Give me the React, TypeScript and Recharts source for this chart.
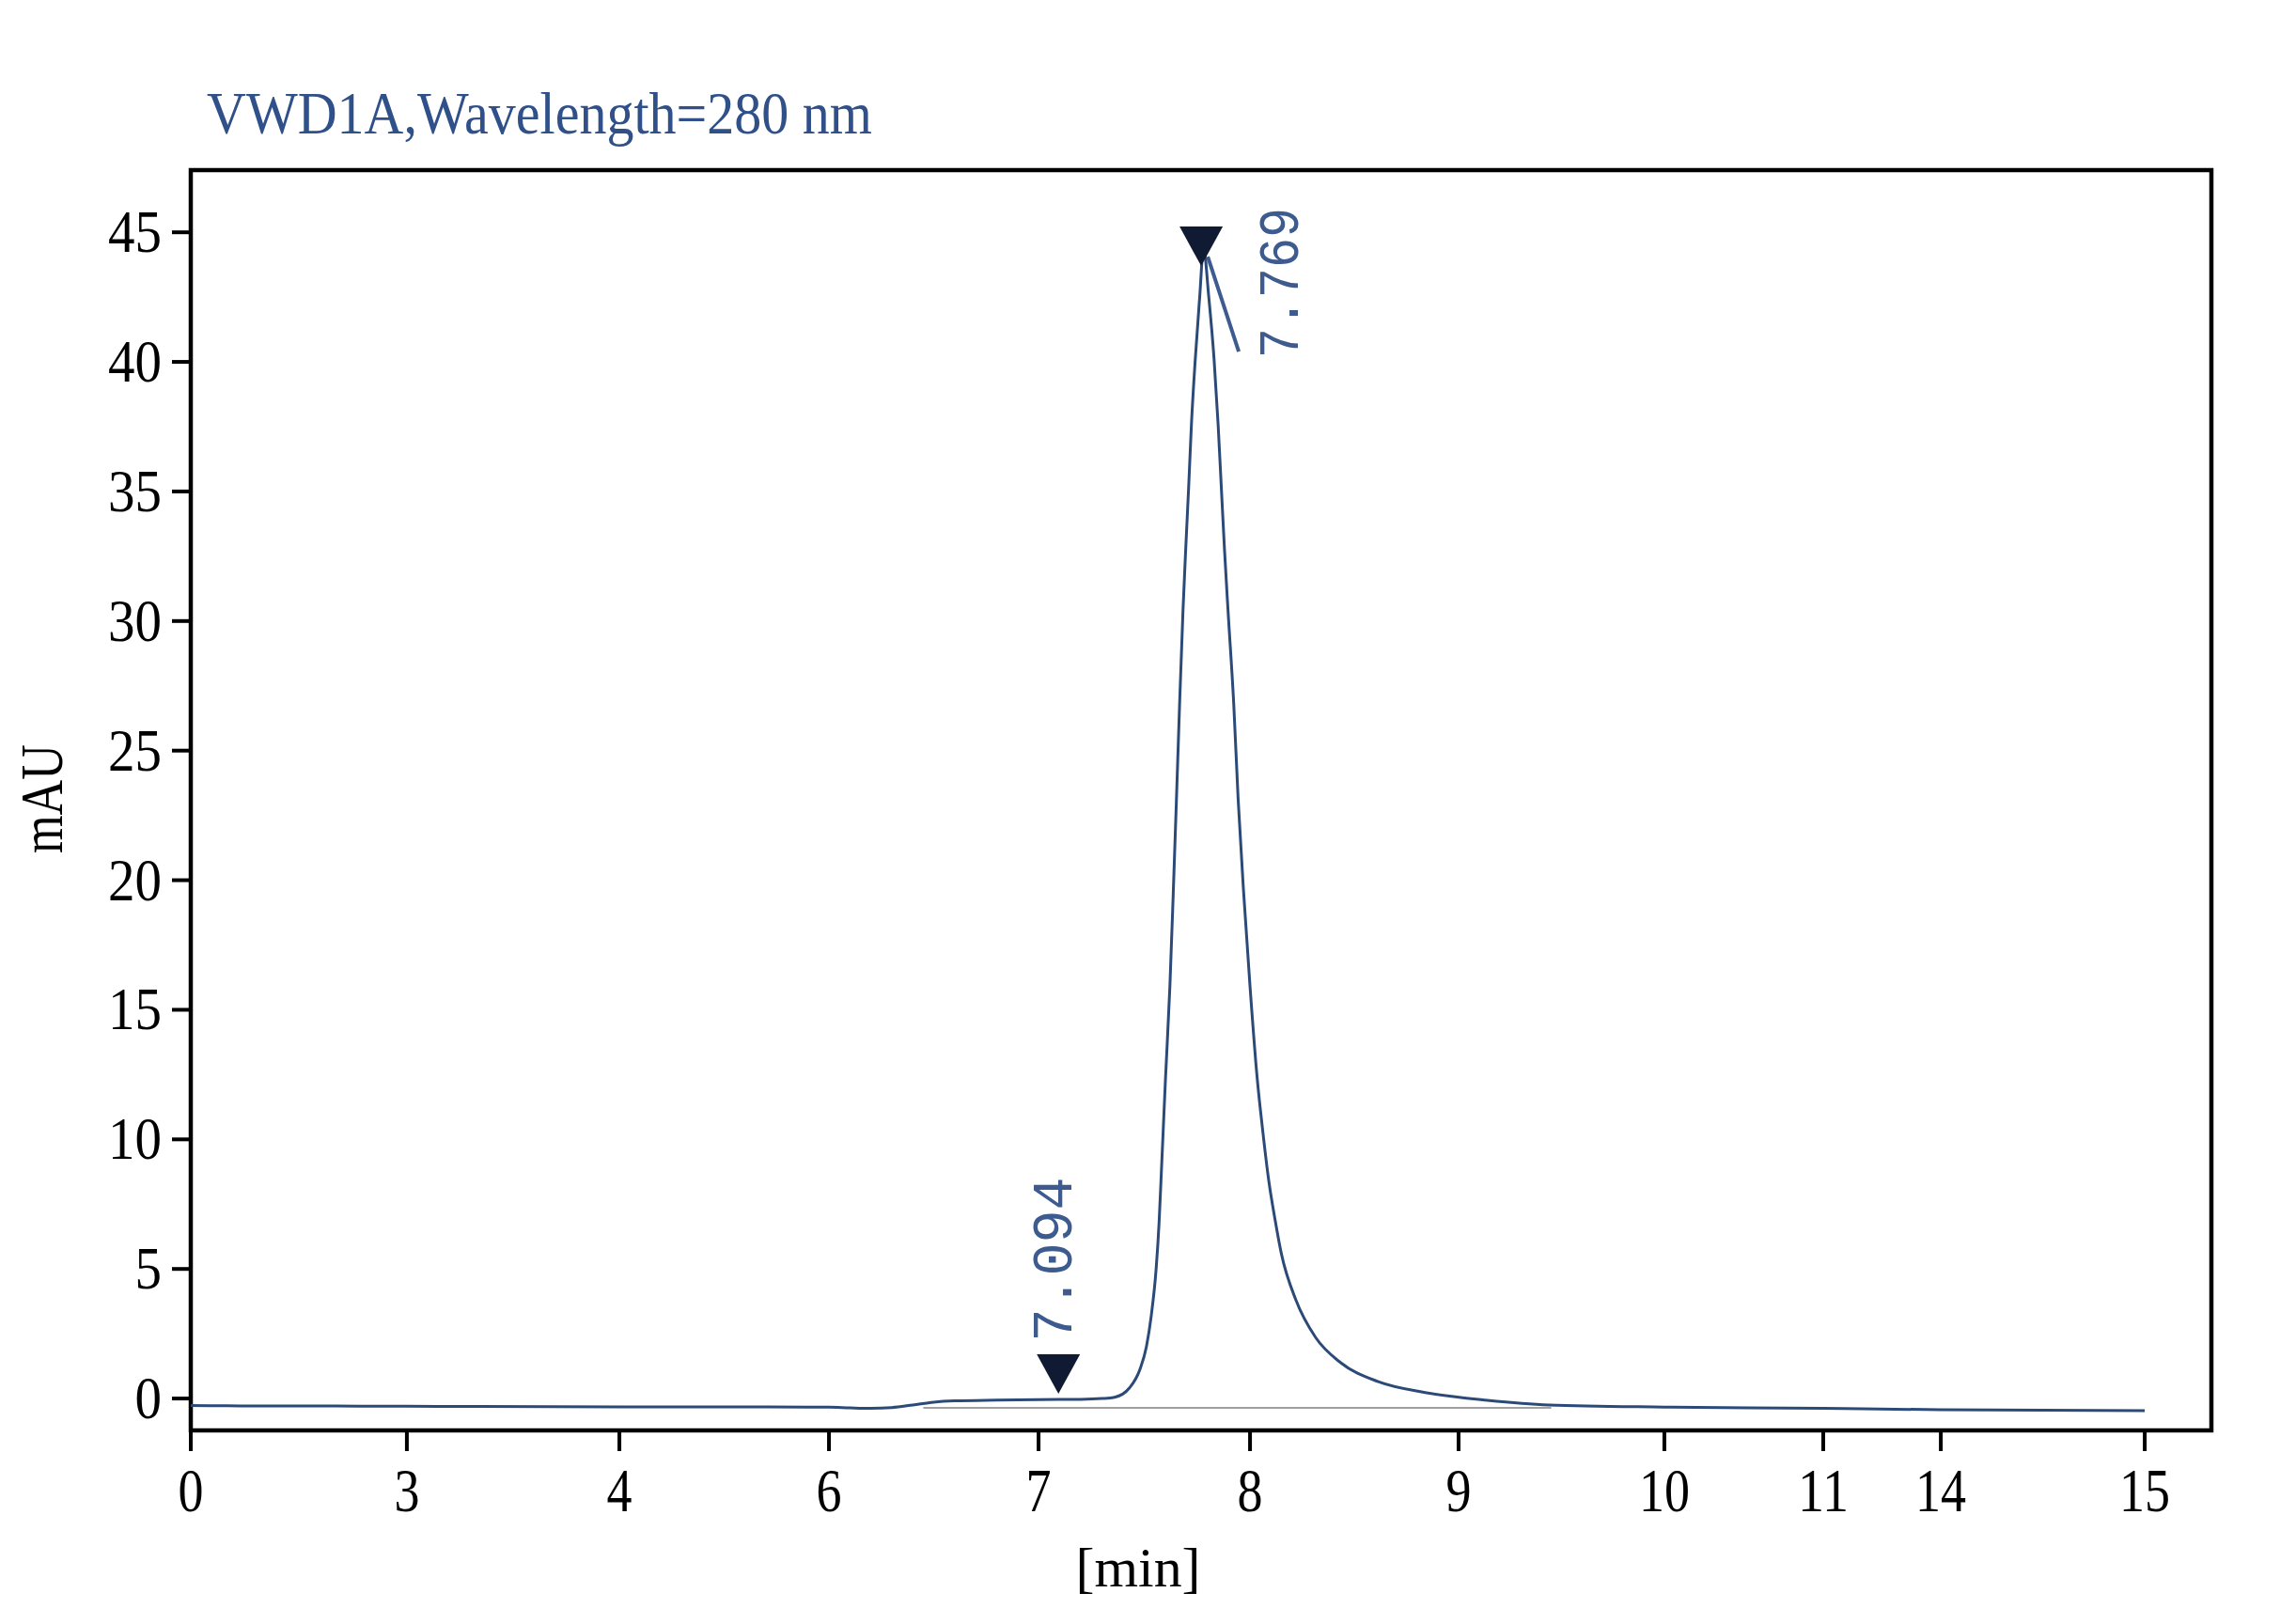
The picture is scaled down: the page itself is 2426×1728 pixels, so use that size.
import React from "react";
import {
  ComposedChart,
  Line,
  Scatter,
  XAxis,
  YAxis,
  ReferenceArea,
} from "recharts";

// x axis in the picture is not linear: each labelled minute sits at its own slot
const tickLabels = [0, 3, 4, 6, 7, 8, 9, 10, 11, 14, 15];
const tickSlots = [0, 1.031, 2.045, 3.045, 4.045, 5.054, 6.049, 7.031, 7.789, 8.35, 9.323];
const slotMax = 9.641;

const yTicks = [0, 5, 10, 15, 20, 25, 30, 35, 40, 45];
const yMin = -1.23;
const yMax = 47.4;

// trace, VWD1A 280 nm
const times = [
  0, 0.5, 1, 2, 3, 4, 5, 5.8, 6.0, 6.1, 6.2, 6.3, 6.4, 6.5, 6.6, 6.8, 7.0, 7.2,
  7.3, 7.36, 7.43, 7.48, 7.51, 7.533, 7.556, 7.57, 7.58, 7.6, 7.621, 7.637,
  7.652, 7.667, 7.683, 7.696, 7.71, 7.723, 7.741, 7.762, 7.78, 7.805, 7.83,
  7.849, 7.864, 7.879, 7.896, 7.923, 7.944, 7.97, 8.0, 8.035, 8.06, 8.09, 8.12,
  8.15, 8.22, 8.315, 8.435, 8.615, 8.84, 9.14, 9.44, 10, 11, 12, 14, 15,
];
const mAU = [
  -0.27, -0.28, -0.29, -0.29, -0.3, -0.32, -0.32, -0.33, -0.33, -0.36, -0.38,
  -0.35, -0.25, -0.14, -0.09, -0.06, -0.04, -0.03, 0.0, 0.05, 0.41, 1.14, 2.0,
  3.2, 5.0, 6.8, 8.6, 12.3, 15.9, 19.5, 23.1, 26.8, 30.4, 32.8, 35.2, 37.6,
  40.1, 42.5, 44.4, 42.5, 40.1, 37.6, 35.2, 32.8, 30.4, 26.8, 23.1, 19.5, 15.9,
  12.3, 10.4, 8.4, 6.9, 5.6, 3.8, 2.35, 1.38, 0.65, 0.23, -0.07, -0.25, -0.33,
  -0.38, -0.4, -0.43, -0.47,
];

// integration baseline
const baseTimes = [6.45, 9.45];
const baseValues = [-0.36, -0.36];

// peak marks
const peakTimes = [7.094, 7.769];
const peakTips = [0.18, 43.7];
const peakNames = ["7.094", "7.769"];

const toSlot = (t: number) => {
  for (let i = 0; i < tickLabels.length - 1; i++) {
    const a = tickLabels[i];
    const b = tickLabels[i + 1];
    if (t <= b) {
      return tickSlots[i] + ((t - a) / (b - a)) * (tickSlots[i + 1] - tickSlots[i]);
    }
  }
  return tickSlots[tickSlots.length - 1];
};

const curve = times.map((t, i) => ({ slot: toSlot(t), v: mAU[i] }));
const baseline = baseTimes.map((t, i) => ({ slot: toSlot(t), v: baseValues[i] }));
const peaks = peakTimes.map((t, i) => ({
  slot: toSlot(t),
  v: peakTips[i],
  name: peakNames[i],
  i,
}));

const serif = "'Liberation Serif', 'Times New Roman', serif";
const mono = "'Liberation Mono', monospace";
const labelBlue = "#3d5b8f";

const labelPlace = [
  { dx: -3, dy: -143, len: 175, lead: false },
  { dx: 86, dy: 18, len: 160, lead: true },
];

const PeakMark = (props: any) => {
  const { cx, cy, payload } = props;
  const p = labelPlace[payload.i];
  return (
    <g>
      <polygon
        points={`${cx - 23},${cy - 42} ${cx + 23},${cy - 42} ${cx},${cy}`}
        fill="#101b33"
      />
      {p.lead && (
        <line
          x1={cx + 7}
          y1={cy - 10}
          x2={cx + 40}
          y2={cy + 91}
          stroke={labelBlue}
          strokeWidth={4}
        />
      )}
      <text
        transform={`translate(${cx + p.dx},${cy + p.dy}) rotate(-90)`}
        textAnchor="middle"
        dominantBaseline="central"
        fontFamily={mono}
        fontSize={62}
        fill={labelBlue}
        textLength={p.len}
        lengthAdjust="spacingAndGlyphs"
      >
        {payload.name}
      </text>
    </g>
  );
};

const YTick = (props: any) => {
  const { x, y, payload } = props;
  const s = String(payload.value);
  return (
    <text
      x={x}
      y={y + 21}
      textAnchor="end"
      fontFamily={serif}
      fontSize={64}
      fill="#000"
      textLength={28.5 * s.length}
      lengthAdjust="spacingAndGlyphs"
    >
      {s}
    </text>
  );
};

const XTick = (props: any) => {
  const { x, y, payload } = props;
  const idx = tickSlots.indexOf(payload.value);
  const s = String(tickLabels[idx]);
  return (
    <text
      x={x}
      y={y + 64}
      textAnchor="middle"
      fontFamily={serif}
      fontSize={66}
      fill="#000"
      textLength={27 * s.length}
      lengthAdjust="spacingAndGlyphs"
    >
      {s}
    </text>
  );
};

export default function App() {
  const W = 2410;
  const H = 1712;
  return (
    <div style={{ position: "relative", width: W, height: H, background: "#fff" }}>
      <ComposedChart
        width={W}
        height={H}
        margin={{ top: 173, right: 65, bottom: 78, left: 75 }}
      >
        <XAxis
          dataKey="slot"
          type="number"
          domain={[0, slotMax]}
          ticks={tickSlots}
          allowDataOverflow
          interval={0}
          height={120}
          tickSize={22}
          tickMargin={0}
          axisLine={false}
          tickLine={{ stroke: "#000", strokeWidth: 4 }}
          tick={<XTick />}
        />
        <YAxis
          type="number"
          domain={[yMin, yMax]}
          ticks={yTicks}
          allowDataOverflow
          interval={0}
          width={120}
          tickSize={20}
          tickMargin={11}
          axisLine={false}
          tickLine={{ stroke: "#000", strokeWidth: 4 }}
          tick={<YTick />}
        />
        <ReferenceArea
          x1={0}
          x2={slotMax}
          y1={yMin}
          y2={yMax}
          fill="none"
          stroke="#000"
          strokeWidth={4.5}
        />
        <Line
          data={baseline}
          dataKey="v"
          type="linear"
          dot={false}
          stroke="#a0a0a0"
          strokeWidth={2}
          isAnimationActive={false}
        />
        <Line
          data={curve}
          dataKey="v"
          type="monotone"
          dot={false}
          stroke="#2c4a78"
          strokeWidth={3}
          isAnimationActive={false}
        />
        <Scatter
          data={peaks}
          dataKey="v"
          shape={<PeakMark />}
          isAnimationActive={false}
        />
      </ComposedChart>
      <svg
        width={W}
        height={H}
        style={{ position: "absolute", left: 0, top: 0, pointerEvents: "none" }}
      >
        <text
          x={212}
          y={134}
          fontFamily={serif}
          fontSize={64}
          fill="#30508a"
          textLength={708}
          lengthAdjust="spacingAndGlyphs"
        >
          VWD1A,Wavelength=280 nm
        </text>
        <text
          transform="translate(58,842) rotate(-90)"
          textAnchor="middle"
          fontFamily={serif}
          fontSize={64}
          fill="#000"
          textLength={116}
          lengthAdjust="spacingAndGlyphs"
        >
          mAU
        </text>
        <text
          x={1203}
          y={1680}
          textAnchor="middle"
          fontFamily={serif}
          fontSize={60}
          fill="#000"
          textLength={133}
          lengthAdjust="spacingAndGlyphs"
        >
          [min]
        </text>
      </svg>
    </div>
  );
}
